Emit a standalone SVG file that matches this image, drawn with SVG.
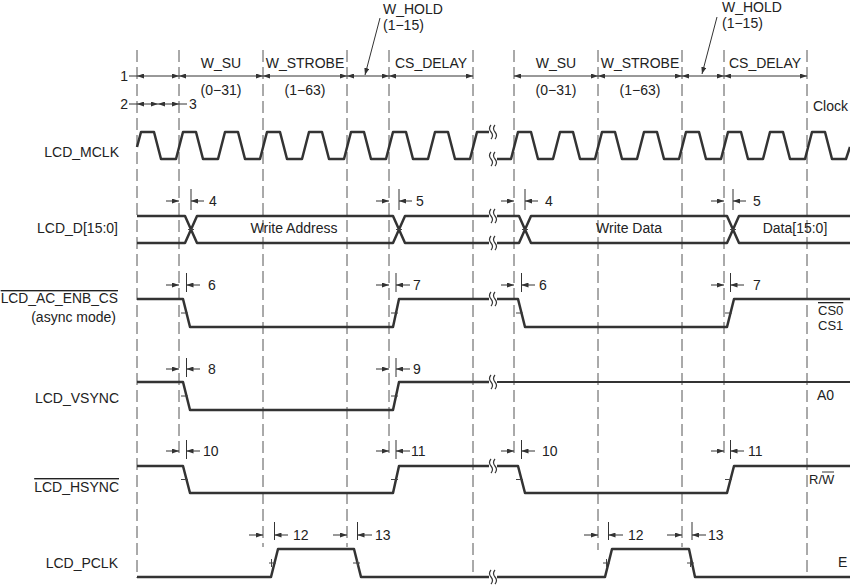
<svg xmlns="http://www.w3.org/2000/svg" xmlns:xlink="http://www.w3.org/1999/xlink" width="850" height="586" viewBox="0 0 850 586">
<style>
text{font-family:"Liberation Sans",Arial,sans-serif;font-size:14px;fill:#222}
.r{text-anchor:end}
.m{text-anchor:middle}
.ov{text-decoration:overline}
.dash{stroke:#555;stroke-width:1;stroke-dasharray:12 5;fill:none}
.w{stroke:#333;stroke-width:2.5;fill:none;stroke-linejoin:round}
.wt{stroke:#333;stroke-width:1.8;fill:none}
.d{stroke:#333;stroke-width:1;fill:none}
.dm{stroke:#333;stroke-width:1;fill:none;marker-end:url(#a)}
.db{stroke:#333;stroke-width:1;fill:none;marker-start:url(#a);marker-end:url(#a)}
.tk{stroke:#444;stroke-width:1;fill:none}
</style>
<defs>
<marker id="a" viewBox="0 0 7 5" refX="7" refY="2.5" markerWidth="7" markerHeight="5" markerUnits="userSpaceOnUse" orient="auto-start-reverse"><path d="M0,0 L7,2.5 L0,5 z" fill="#333"/></marker>
<g id="brk"><path d="M-1,-7 q-3,3.5 0,7 q3,3.5 0,7 M3,-7 q-3,3.5 0,7 q3,3.5 0,7" fill="none" stroke="#333" stroke-width="1.2"/></g>
</defs>
<rect width="850" height="586" fill="#fff"/>

<g id="gridlines">
<line class="dash" x1="137" y1="50" x2="137" y2="578"/>
<line class="dash" x1="179" y1="50" x2="179" y2="458"/>
<line class="dash" x1="263" y1="50" x2="263" y2="547"/>
<line class="dash" x1="347" y1="50" x2="347" y2="547"/>
<line class="dash" x1="389" y1="50" x2="389" y2="458"/>
<line class="dash" x1="473" y1="50" x2="473" y2="578"/>
<line class="dash" x1="514" y1="50" x2="514" y2="458"/>
<line class="dash" x1="598" y1="50" x2="598" y2="550"/>
<line class="dash" x1="682" y1="50" x2="682" y2="547"/>
<line class="dash" x1="724" y1="50" x2="724" y2="458"/>
<line class="dash" x1="807" y1="50" x2="807" y2="578"/>
</g>

<g id="timing-labels">
<text x="383" y="14">W_HOLD</text>
<text x="383" y="30">(1−15)</text>
<text x="722" y="12">W_HOLD</text>
<text x="722" y="28">(1−15)</text>
<text class="m" x="221" y="68">W_SU</text>
<text class="m" x="305" y="68">W_STROBE</text>
<text class="m" x="431" y="68">CS_DELAY</text>
<text class="m" x="221" y="95">(0−31)</text>
<text class="m" x="305" y="95">(1−63)</text>
<text class="m" x="556" y="68">W_SU</text>
<text class="m" x="640" y="68">W_STROBE</text>
<text class="m" x="765" y="68">CS_DELAY</text>
<text class="m" x="556" y="95">(0−31)</text>
<text class="m" x="640" y="95">(1−63)</text>
<text class="r" x="128" y="81">1</text>
<text class="r" x="128" y="109">2</text>
<text x="189" y="109">3</text>
<text x="813" y="111">Clock</text>
</g>

<g id="lcd_mclk">
<text class="r" x="119" y="157">LCD_MCLK</text>
<path class="w" d="M137,147 L141,132 L154,132 L161,159 L176,159 L183,132 L196,132 L203,159 L218,159 L225,132 L238,132 L245,159 L260,159 L267,132 L280,132 L287,159 L302,159 L309,132 L322,132 L329,159 L344,159 L351,132 L364,132 L371,159 L386,159 L393,132 L406,132 L413,159 L428,159 L435,132 L448,132 L455,159 L470,159 L477,132 L489,132"/>
<path class="w" d="M497,159 L511,159 L518,132 L531,132 L538,159 L553,159 L560,132 L573,132 L580,159 L595,159 L602,132 L615,132 L622,159 L637,159 L644,132 L657,132 L664,159 L679,159 L686,132 L699,132 L706,159 L721,159 L728,132 L741,132 L748,159 L763,159 L770,132 L783,132 L790,159 L805,159 L812,132 L825,132 L832,159 L846,159 L850,147"/>
<use xlink:href="#brk" x="492" y="132"/>
<use xlink:href="#brk" x="492" y="159"/>
</g>

<g id="lcd_d">
<text class="r" x="118" y="233">LCD_D[15:0]</text>
<path class="w" d="M137,216 L185,216 L197,243 L393,243 L405,216 L489,216"/>
<path class="w" d="M137,243 L185,243 L197,216 L393,216 L405,243 L489,243"/>
<path class="w" d="M497,216 L519,216 L531,243 L727,243 L739,216 L850,216"/>
<path class="w" d="M497,243 L519,243 L531,216 L727,216 L739,243 L850,243"/>
<use xlink:href="#brk" x="492" y="216"/>
<use xlink:href="#brk" x="492" y="243"/>
<path class="tk" d="M188,229.5 H194 M396,229.5 H402 M522,229.5 H528 M730,229.5 H736"/>
<text class="m" x="294" y="233">Write Address</text>
<text class="m" x="629" y="233">Write Data</text>
<text class="m" x="795" y="233">Data[15:0]</text>
</g>

<g id="lcd_ac_enb_cs">
<text class="r ov" x="118" y="303" style="font-size:13.8px">LCD_AC_ENB_CS</text>
<text class="r" x="116" y="322">(async mode)</text>
<path class="w" d="M137,299 L183,299 L190,327 L393,327 L399,299 L489,299"/>
<path class="w" d="M497,299 L518,299 L525,327 L727,327 L734,299 L850,299"/>
<use xlink:href="#brk" x="492" y="299"/>
<path class="tk" d="M181,313 H188 M391,313 H398 M516,313 H523 M725,313 H732"/>
<text class="ov" x="818" y="315" style="font-size:13px">CS0</text>
<text x="818" y="330" style="font-size:13px">CS1</text>
</g>

<g id="lcd_vsync">
<text class="r" x="119" y="403">LCD_VSYNC</text>
<path class="w" d="M137,382 L183,382 L190,410 L393,410 L399,382 L489,382"/>
<path class="wt" d="M497,382 L850,382"/>
<use xlink:href="#brk" x="492" y="382"/>
<path class="tk" d="M181,396 H188 M391,396 H398"/>
<text x="817" y="400">A0</text>
</g>

<g id="lcd_hsync">
<text class="r ov" x="119" y="492">LCD_HSYNC</text>
<path class="w" d="M137,466 L183,466 L190,493 L393,493 L399,466 L489,466"/>
<path class="w" d="M497,466 L518,466 L525,493 L727,493 L734,466 L850,466"/>
<use xlink:href="#brk" x="492" y="466"/>
<path class="tk" d="M181,479.5 H188 M391,479.5 H398 M516,479.5 H523 M725,479.5 H732"/>
<text x="809" y="484" style="font-size:13px">R/W</text>
<line class="d" x1="822" y1="472" x2="834" y2="472"/>
</g>

<g id="lcd_pclk">
<text class="r" x="118" y="568">LCD_PCLK</text>
<path class="w" d="M137,577 L271,577 L278,549 L354,549 L361,577 L489,577"/>
<path class="w" d="M497,577 L605,577 L612,549 L689,549 L695,577 L850,577"/>
<use xlink:href="#brk" x="492" y="577"/>
<path class="tk" d="M269,563 H276 M271.5,559 V567 M353,563 H360 M357.5,559 V567 M603,563 H610 M606.5,559 V567 M687,563 H694 M690.5,559 V567"/>
<text x="838" y="567">E</text>
</g>

<g id="connectors">
<line class="d" x1="129" y1="76" x2="137" y2="76"/>
<line class="db" x1="137" y1="76" x2="179" y2="76"/>
<line class="db" x1="179" y1="76" x2="263" y2="76"/>
<line class="db" x1="263" y1="76" x2="347" y2="76"/>
<line class="db" x1="347" y1="76" x2="389" y2="76"/>
<line class="db" x1="389" y1="76" x2="473" y2="76"/>
<line class="db" x1="514" y1="76" x2="598" y2="76"/>
<line class="db" x1="598" y1="76" x2="682" y2="76"/>
<line class="db" x1="682" y1="76" x2="724" y2="76"/>
<line class="db" x1="724" y1="76" x2="807" y2="76"/>
<line class="d" x1="129" y1="104" x2="137" y2="104"/>
<line class="db" x1="137" y1="104" x2="158" y2="104"/>
<line class="db" x1="158" y1="104" x2="179" y2="104"/>
<line class="d" x1="179" y1="104" x2="187" y2="104"/>
<line class="dm" x1="380" y1="18" x2="365" y2="75"/>
<line class="dm" x1="717" y1="17" x2="702" y2="74"/>

<line class="d" x1="191" y1="189" x2="191" y2="210"/>
<line class="d" x1="399" y1="189" x2="399" y2="210"/>
<line class="d" x1="525" y1="189" x2="525" y2="210"/>
<line class="d" x1="733" y1="189" x2="733" y2="210"/>
<line class="dm" x1="166" y1="201" x2="179" y2="201"/>
<line class="dm" x1="204" y1="201" x2="191" y2="201"/>
<line class="dm" x1="376" y1="201" x2="389" y2="201"/>
<line class="dm" x1="412" y1="201" x2="399" y2="201"/>
<line class="dm" x1="501" y1="201" x2="514" y2="201"/>
<line class="dm" x1="538" y1="201" x2="525" y2="201"/>
<line class="dm" x1="711" y1="201" x2="724" y2="201"/>
<line class="dm" x1="746" y1="201" x2="733" y2="201"/>
<text class="m" x="213" y="206">4</text>
<text class="m" x="420" y="206">5</text>
<text class="m" x="549" y="206">4</text>
<text class="m" x="757" y="206">5</text>

<line class="d" x1="186.5" y1="273" x2="186.5" y2="292"/>
<line class="d" x1="396" y1="273" x2="396" y2="292"/>
<line class="d" x1="521.5" y1="273" x2="521.5" y2="292"/>
<line class="d" x1="730.5" y1="273" x2="730.5" y2="292"/>
<line class="dm" x1="166" y1="285" x2="179" y2="285"/>
<line class="dm" x1="200" y1="285" x2="186.5" y2="285"/>
<line class="dm" x1="376" y1="285" x2="389" y2="285"/>
<line class="dm" x1="410" y1="285" x2="396" y2="285"/>
<line class="dm" x1="501" y1="285" x2="514" y2="285"/>
<line class="dm" x1="535" y1="285" x2="521.5" y2="285"/>
<line class="dm" x1="711" y1="285" x2="724" y2="285"/>
<line class="dm" x1="744" y1="285" x2="730.5" y2="285"/>
<text class="m" x="212" y="290">6</text>
<text class="m" x="417" y="290">7</text>
<text class="m" x="543" y="290">6</text>
<text class="m" x="757" y="290">7</text>

<line class="d" x1="186.5" y1="358" x2="186.5" y2="377"/>
<line class="d" x1="396" y1="358" x2="396" y2="377"/>
<line class="dm" x1="166" y1="369" x2="179" y2="369"/>
<line class="dm" x1="200" y1="369" x2="186.5" y2="369"/>
<line class="dm" x1="376" y1="369" x2="389" y2="369"/>
<line class="dm" x1="410" y1="369" x2="396" y2="369"/>
<text class="m" x="212" y="374">8</text>
<text class="m" x="417" y="374">9</text>

<line class="d" x1="186.5" y1="440" x2="186.5" y2="459"/>
<line class="d" x1="396" y1="440" x2="396" y2="459"/>
<line class="d" x1="521.5" y1="440" x2="521.5" y2="459"/>
<line class="d" x1="730.5" y1="440" x2="730.5" y2="459"/>
<line class="dm" x1="166" y1="451" x2="179" y2="451"/>
<line class="dm" x1="200" y1="451" x2="186.5" y2="451"/>
<line class="dm" x1="376" y1="451" x2="389" y2="451"/>
<line class="dm" x1="410" y1="451" x2="396" y2="451"/>
<line class="dm" x1="501" y1="451" x2="514" y2="451"/>
<line class="dm" x1="535" y1="451" x2="521.5" y2="451"/>
<line class="dm" x1="711" y1="451" x2="724" y2="451"/>
<line class="dm" x1="744" y1="451" x2="730.5" y2="451"/>
<text x="203" y="456">10</text>
<text x="411" y="456">11</text>
<text x="542" y="456">10</text>
<text x="748" y="456">11</text>

<line class="d" x1="274.5" y1="522" x2="274.5" y2="540"/>
<line class="d" x1="357.5" y1="522" x2="357.5" y2="540"/>
<line class="d" x1="608.5" y1="522" x2="608.5" y2="540"/>
<line class="d" x1="692" y1="522" x2="692" y2="540"/>
<line class="dm" x1="249" y1="535" x2="263" y2="535"/>
<line class="dm" x1="288" y1="535" x2="274.5" y2="535"/>
<line class="dm" x1="333" y1="535" x2="347" y2="535"/>
<line class="dm" x1="372" y1="535" x2="357.5" y2="535"/>
<line class="dm" x1="584" y1="535" x2="598" y2="535"/>
<line class="dm" x1="623" y1="535" x2="608.5" y2="535"/>
<line class="dm" x1="667" y1="535" x2="682" y2="535"/>
<line class="dm" x1="706" y1="535" x2="692" y2="535"/>
<text x="293" y="540">12</text>
<text x="375" y="540">13</text>
<text x="628" y="540">12</text>
<text x="708" y="540">13</text>
</g>
</svg>
